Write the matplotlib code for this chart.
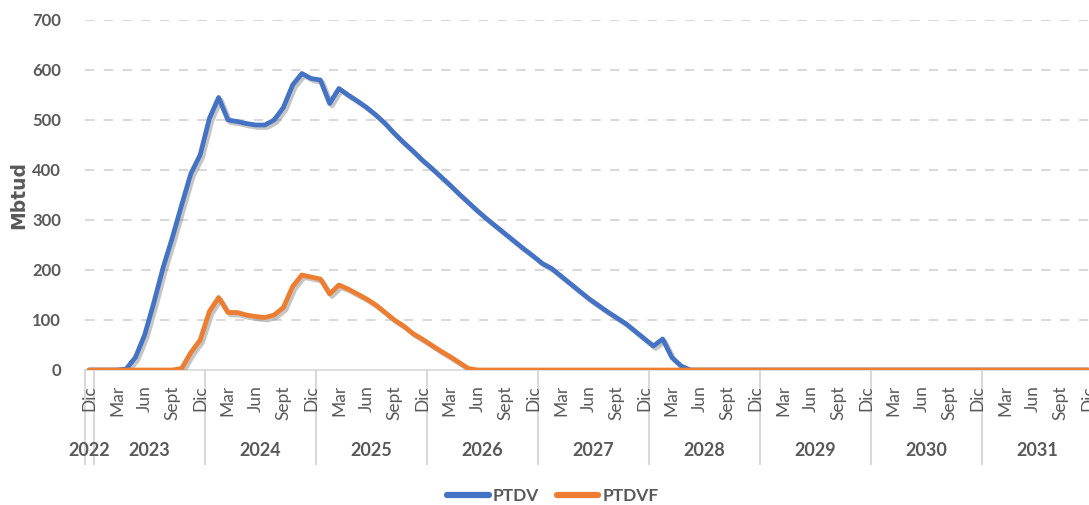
import matplotlib
matplotlib.use("Agg")
import matplotlib.pyplot as plt
import matplotlib.patheffects as pe
from matplotlib.transforms import blended_transform_factory

# ---------------- data ----------------
month_names = ["Dic", "Ene", "Feb", "Mar", "Abr", "May", "Jun",
               "Jul", "Ago", "Sept", "Oct", "Nov"]
years = [2022, 2023, 2024, 2025, 2026, 2027, 2028, 2029, 2030, 2031]
labeled_months = ["Dic", "Mar", "Jun", "Sept"]

# monthly values, Dec 2022 .. Dec 2031 (109 months)
ptdv = ([0, 0, 0, 0, 2, 25, 70, 135, 205, 265, 330, 393, 430,          # Dec22-Dec23
         503, 545, 500, 497, 493, 490, 490, 500, 525, 570, 593, 583,     # 2024
         580, 533, 563, 550, 538, 525, 510, 493, 473, 455, 438, 420,     # 2025
         404, 387, 370, 352, 335, 318, 302, 287, 272, 257, 242, 228,     # 2026
         213, 203, 188, 173, 158, 143, 130, 117, 105, 93, 78, 63,        # 2027
         48, 62, 25, 8, 0]                                               # 2028...
        + [0] * 43)
ptdvf = ([0, 0, 0, 0, 0, 0, 0, 0, 0, 0, 3, 35, 60,                      # Dec22-Dec23
          117, 145, 115, 115, 110, 107, 105, 110, 125, 167, 190, 186,     # 2024
          182, 152, 170, 162, 152, 142, 130, 115, 100, 88, 73, 62,        # 2025
          50, 38, 27, 15, 3, 0]                                           # 2026...
         + [0] * 66)

series_names = ["PTDV", "PTDVF"]
series_colors = ["#4472C4", "#ED7D31"]
y_ticks = [0, 100, 200, 300, 400, 500, 600, 700]
y_label = "Mbtud"

# categories
categories = ["Dic 2022"]
for y in years[1:]:
    for m in month_names[1:] + month_names[:1]:
        categories.append(f"{m} {y}")
n = len(categories)
xs = list(range(n))

# ---------------- figure ----------------
plt.rcParams["font.family"] = ["Lato", "DejaVu Sans"]
W, H = 1089, 505
fig = plt.figure(figsize=(W / 100, H / 100), dpi=100)
left_px, top_px, bottom_px = 84.5, 20, 370
cat_w = 9.25
ax_h_px = bottom_px - top_px
ax = fig.add_axes([left_px / W, 1 - bottom_px / H,
                   (n * cat_w) / W, ax_h_px / H])
ax.set_xlim(-0.5, n - 0.5)
ax.set_ylim(0, 700)

txt = "#595959"
grid_c = "#d9d9d9"

for sp in ["left", "right", "top"]:
    ax.spines[sp].set_visible(False)
ax.spines["bottom"].set_color(grid_c)
ax.spines["bottom"].set_linewidth(1.2)

for v in y_ticks[1:]:
    ax.axhline(v, color=grid_c, lw=1.5, dashes=(4.5, 4.5), zorder=0)

ax.set_yticks(y_ticks)
ax.set_yticklabels([str(v) for v in y_ticks], fontsize=12, fontweight="bold", color=txt)
ax.tick_params(axis="y", length=0, pad=17)
fig.text(19 / W, 1 - 195 / H, y_label, rotation=90, ha="center", va="center",
         fontsize=13.5, fontweight="bold", color=txt, family=["DejaVu Sans"])

# month labels (rotated, top-aligned under the axis)
ax.set_xticks([])
tr = blended_transform_factory(ax.transData, ax.transAxes)
for i in xs:
    m = categories[i].split()[0]
    if m in labeled_months:
        ax.text(i, -15 / ax_h_px, m, transform=tr, rotation=90, ha="center",
                va="top", fontsize=12.5, color=txt, clip_on=False)

# year separators and labels
bounds = [-0.5]
for i in range(1, n):
    if categories[i].startswith("Ene"):
        bounds.append(i - 0.5)
for b in bounds:
    ax.plot([b, b], [0, -94 / ax_h_px], transform=tr, color=grid_c, lw=1.5, clip_on=False)
for y in years:
    idx = [i for i in xs if categories[i].endswith(str(y))]
    cx = (idx[0] + idx[-1]) / 2
    ax.text(cx, -81 / ax_h_px, str(y), transform=tr, ha="center", va="center",
            fontsize=13, fontweight="bold", color=txt)

shadow = [pe.SimpleLineShadow(offset=(1.8, -1.8), shadow_color="#7f7f7f", alpha=0.45),
          pe.Normal()]
for vals, name, col in zip([ptdv, ptdvf], series_names, series_colors):
    ax.plot(xs, vals, color=col, lw=3.4, label=name, solid_joinstyle="round",
            solid_capstyle="round", path_effects=shadow, zorder=3)

handles, labels = ax.get_legend_handles_labels()
leg = fig.legend(handles, labels, loc="center", bbox_to_anchor=(553 / W, 1 - 496 / H),
                 ncol=2, frameon=False, fontsize=12.5, handlelength=2.4,
                 handletextpad=0.25, columnspacing=1.0)
for t in leg.get_texts():
    t.set_color(txt)
    t.set_fontweight("bold")
for l in leg.get_lines():
    l.set_linewidth(4.5)
    l.set_path_effects([])

fig.savefig("out.png", dpi=100)
